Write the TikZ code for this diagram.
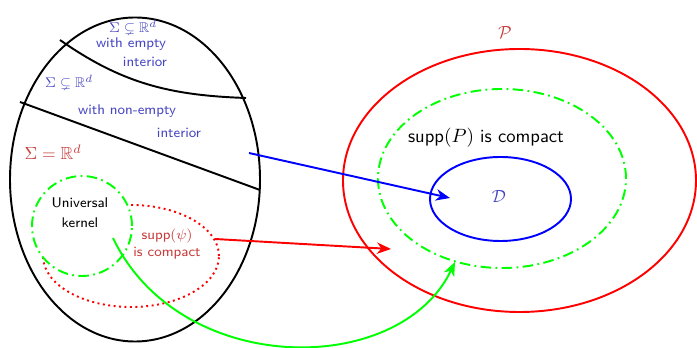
\documentclass[tikz,border=0pt]{standalone}
\usepackage{amsmath,amssymb}
\usepackage{tikz}
\usetikzlibrary{arrows.meta,calc}
\definecolor{txtblue}{RGB}{70,70,195}
\definecolor{txtred}{RGB}{200,60,60}

\begin{document}
\begin{tikzpicture}[
  x=0.02cm, y=0.02cm,
  font=\sffamily,
  bline/.style={black, line width=1.1pt},
  dashdot/.style={green, line width=1.1pt, dash pattern=on 6pt off 2.5pt on 1pt off 2.5pt},
  lbl/.style={font=\sffamily\footnotesize, inner sep=0pt, align=center},
  arr/.style={-{Stealth[length=8pt, width=6.5pt, inset=2.5pt]}, line width=1.1pt},
]
\useasboundingbox (0,0) rectangle (697,348);

% left: the set Sigma
\draw[bline] (135,168.5) ellipse [x radius=125, y radius=162];
\draw[bline] (60,308) to[out=-35, in=178] (246,250);
\draw[bline] (20,246) -- (260,158);

\node[lbl, text=txtblue] (emptys) at (133,321) {$\Sigma \subsetneq \mathbb{R}^d$};
\node[lbl, text=txtblue] (empty1) at (131,304) {with empty};
\node[lbl, text=txtblue] (empty2) at (145,286) {interior};
\node[lbl, text=txtblue] (nonemptys) at (69,266) {$\Sigma \subsetneq \mathbb{R}^d$};
\node[lbl, text=txtblue] (nonempty1) at (127,237) {with non-empty};
\node[lbl, text=txtblue] (nonempty2) at (179,215) {interior};
\node[lbl, font=\normalsize, text=txtred] (full) at (53,196) {$\Sigma = \mathbb{R}^d$};

\draw[red, line width=1.1pt, dotted] (131,92) ellipse [x radius=88, y radius=51];
\draw[dashdot, fill=white] (82,122) circle [radius=50];
\node[lbl] (univ) at (80,135) {Universal\\[2pt]kernel};
\node[lbl, text=txtred] (cpt) at (167,104) {supp$(\psi)$\\is compact};

% right: the set of distributions
\draw[red, line width=1.1pt] (519.5,167.5) ellipse [x radius=176.5, y radius=131.5];
\node[lbl, font=\normalsize, text=txtred] (pset) at (505,315) {$\mathcal{P}$};
\draw[dashdot] (502,169.5) ellipse [x radius=124, y radius=89.5];
\node[lbl, font=\sffamily\fontsize{10.6}{12}\selectfont] (supp) at (486,210) {supp$(P)$ is compact};
\draw[blue, line width=1.1pt] (500.5,149) ellipse [x radius=70.5, y radius=42];
\node[lbl, font=\normalsize, text=txtblue] (dset) at (499,151) {$\mathcal{D}$};

% connectors
\coordinate (bfrom) at (249,195);
\coordinate (bto) at (450,150);
\coordinate (rfrom) at (215,109);
\coordinate (rto) at (391,99);
\coordinate (gfrom) at (113,110);
\coordinate (gto) at (455,86);
\draw[arr, blue] (bfrom) -- (bto);
\draw[arr, red] (rfrom) -- (rto);
\draw[arr, green] (gfrom) .. controls (180,-30) and (400,-30) .. (gto);
\end{tikzpicture}
\end{document}
